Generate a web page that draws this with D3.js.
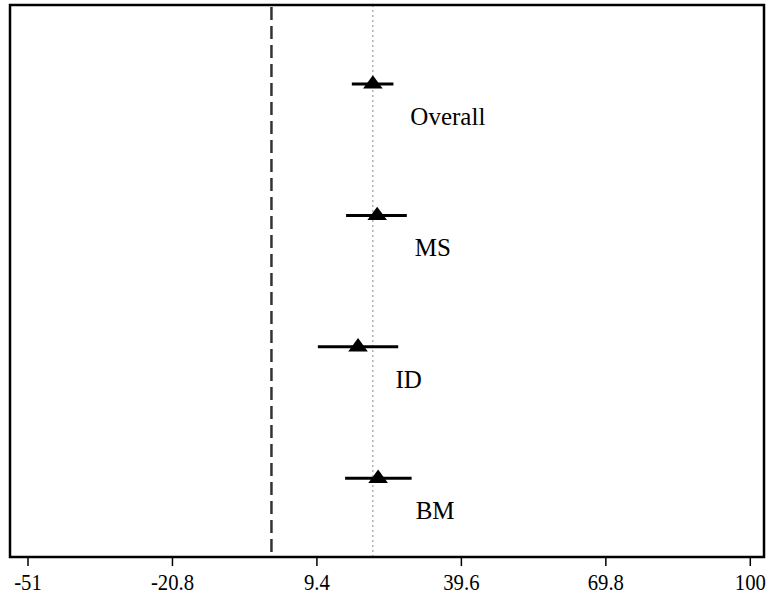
<!DOCTYPE html>
<html lang="en">
<head>
  <meta charset="UTF-8">
  <title>Estimates by group</title>
  <script src="https://cdn.jsdelivr.net/npm/d3@7"></script>
  <style>
    body { margin: 0; background: #fff; }
    svg text { font-family: "Liberation Serif", "Times New Roman", serif; }
  </style>
</head>
<body>
  <svg id="svg" width="766" height="598"></svg>

  <script>
    // Data
    const groups = ["Overall", "MS", "ID", "BM"]
    const estimates = [21.2, 22.1, 18.1, 22.3]
    const lower = [16.8, 15.6, 9.7, 15.4]
    const upper = [25.5, 28.3, 26.5, 29.3]
    const tickValues = [-51, -20.8, 9.4, 39.6, 69.8, 100]
    const nullLine = 0
    const overallLine = 21.2

    const rows = groups.map((g, i) => ({ group: g, est: estimates[i], lo: lower[i], hi: upper[i] }))

    // plot frame in pixels
    const frame = { left: 10, right: 764, top: 5, bottom: 557 }

    const xscale = d3.scaleLinear()
      .domain([-51, 100])
      .range([27.5, 749.8])

    const yscale = d3.scalePoint()
      .domain(groups)
      .range([84, 478.3])

    const svg = d3.select("#svg")

    // reference lines
    svg.append("line")
      .attr("x1", xscale(nullLine)).attr("x2", xscale(nullLine))
      .attr("y1", frame.top + 2).attr("y2", frame.bottom)
      .attr("stroke", "#333")
      .attr("stroke-width", 2.5)
      .attr("stroke-dasharray", "13,6")

    svg.append("line")
      .attr("x1", xscale(overallLine)).attr("x2", xscale(overallLine))
      .attr("y1", frame.top).attr("y2", frame.bottom)
      .attr("stroke", "#888")
      .attr("stroke-width", 1)
      .attr("stroke-dasharray", "2,3")

    // confidence intervals
    svg.append("g")
      .selectAll("line")
      .data(rows)
      .join("line")
      .attr("x1", d => xscale(d.lo))
      .attr("x2", d => xscale(d.hi))
      .attr("y1", d => yscale(d.group))
      .attr("y2", d => yscale(d.group))
      .attr("stroke", "#000")
      .attr("stroke-width", 3)

    // triangle markers
    svg.append("g")
      .selectAll("path")
      .data(rows)
      .join("path")
      .attr("transform", d => `translate(${xscale(d.est)},${yscale(d.group)})`)
      .attr("d", "M0,-8.8L9.8,4.6L-9.8,4.6Z")
      .attr("fill", "#000")

    // group labels
    svg.append("g")
      .selectAll("text")
      .data(rows)
      .join("text")
      .attr("x", d => xscale(d.est) + 37.5)
      .attr("y", d => yscale(d.group) + 41)
      .style("font-family", "'Liberation Serif', serif")
      .style("font-size", "25px")
      .attr("fill", "#000")
      .text(d => d.group)

    // frame
    svg.append("rect")
      .attr("x", frame.left).attr("y", frame.top)
      .attr("width", frame.right - frame.left)
      .attr("height", frame.bottom - frame.top)
      .attr("fill", "none")
      .attr("stroke", "#000")
      .attr("stroke-width", 2.5)

    // x axis
    const axis = svg.append("g")
      .attr("transform", `translate(0, ${frame.bottom})`)
      .call(d3.axisBottom(xscale).tickValues(tickValues).tickSize(9).tickPadding(8).tickFormat(d => d))

    axis.select(".domain").remove()
    axis.selectAll(".tick line").attr("stroke-width", 1.5)
    // tick labels are a bit narrow in the original
    axis.selectAll(".tick text")
      .style("font-family", "'Liberation Serif', serif")
      .style("font-size", "23px")
      .attr("transform", "scale(0.9,1)")
      .attr("fill", "#000")
  </script>
</body>
</html>
